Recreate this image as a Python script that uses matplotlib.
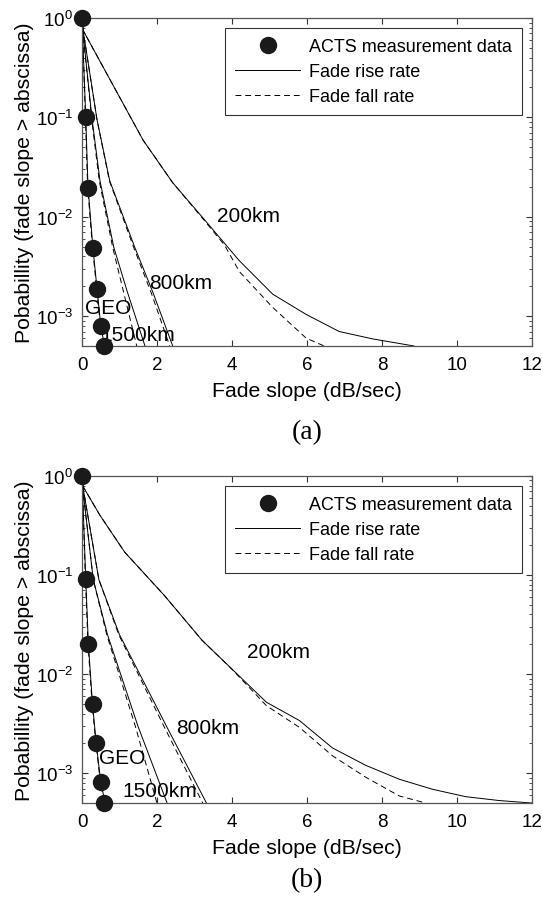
import numpy as np
import matplotlib
matplotlib.use('Agg')
import matplotlib.pyplot as plt

plt.rcParams['font.family'] = ['Liberation Sans', 'DejaVu Sans']
plt.rcParams['mathtext.default'] = 'regular'

#---- panel (a) ----
a_acts_x = [0, 0.1, 0.16, 0.29, 0.4, 0.5, 0.58]
a_acts_y = [1.0, 0.1, 0.0195, 0.0049, 0.00188, 7.9e-4, 5e-4]

a_geo_rise_x = [0, 0.1, 0.16, 0.29, 0.4, 0.5, 0.6]
a_geo_rise_y = [1.0, 0.1, 0.02, 0.0049, 0.0019, 8e-4, 5e-4]
a_geo_fall_x = [0, 0.09, 0.15, 0.28, 0.39, 0.49, 0.57]
a_geo_fall_y = [1.0, 0.1, 0.02, 0.0049, 0.0019, 8e-4, 5e-4]

a_1500_rise_x = [0, 0.02, 0.27, 0.48, 0.85, 1.2, 1.68]
a_1500_rise_y = [1.0, 0.75, 0.095, 0.023, 0.0049, 0.0018, 5e-4]
a_1500_fall_x = [0, 0.02, 0.26, 0.46, 0.82, 1.1, 1.46]
a_1500_fall_y = [1.0, 0.75, 0.095, 0.023, 0.0049, 0.0018, 5e-4]

a_800_rise_x = [0, 0.03, 0.40, 0.74, 1.41, 1.9, 2.42]
a_800_rise_y = [1.0, 0.75, 0.095, 0.023, 0.0049, 0.0017, 5e-4]
a_800_fall_x = [0, 0.03, 0.40, 0.73, 1.38, 1.85, 2.34]
a_800_fall_y = [1.0, 0.75, 0.095, 0.023, 0.0049, 0.0017, 5e-4]

a_200_rise_x = [0, 0.03, 1.63, 2.42, 3.2, 4.2, 5.09, 5.98, 6.86, 7.75, 8.86]
a_200_rise_y = [1.0, 0.75, 0.059, 0.022, 0.01, 0.0036, 0.00166, 0.00104, 7e-4, 5.9e-4, 5e-4]
a_200_fall_x = [0, 0.03, 1.63, 2.42, 3.2, 3.8, 4.2, 5.09, 5.98, 6.46]
a_200_fall_y = [1.0, 0.75, 0.059, 0.022, 0.0098, 0.0052, 0.0028, 0.00122, 6e-4, 5e-4]

#---- panel (b) ----
b_acts_x = [0, 0.1, 0.17, 0.28, 0.38, 0.5, 0.6]
b_acts_y = [1.0, 0.091, 0.02, 0.005, 0.002, 8.1e-4, 5e-4]

b_geo_rise_x = [0, 0.1, 0.17, 0.28, 0.38, 0.5, 0.62]
b_geo_rise_y = [1.0, 0.091, 0.02, 0.005, 0.002, 8.1e-4, 5e-4]
b_geo_fall_x = [0, 0.09, 0.16, 0.27, 0.37, 0.49, 0.6]
b_geo_fall_y = [1.0, 0.091, 0.02, 0.005, 0.002, 8.1e-4, 5e-4]

b_1500_rise_x = [0, 0.02, 0.3, 0.68, 1.49, 2.27]
b_1500_rise_y = [1.0, 0.75, 0.09, 0.025, 0.003, 5e-4]
b_1500_fall_x = [0, 0.02, 0.3, 0.66, 1.42, 2.0]
b_1500_fall_y = [1.0, 0.75, 0.09, 0.025, 0.003, 5e-4]

b_800_rise_x = [0, 0.03, 0.45, 1.0, 2.29, 3.32]
b_800_rise_y = [1.0, 0.75, 0.09, 0.025, 0.0028, 5e-4]
b_800_fall_x = [0, 0.03, 0.45, 0.98, 2.22, 3.22]
b_800_fall_y = [1.0, 0.75, 0.09, 0.025, 0.0028, 5e-4]

b_200_rise_x = [0, 0.03, 0.48, 1.14, 2.2, 3.2, 4.92, 5.8, 6.68, 7.57, 8.46, 9.34, 10.23, 11.12, 12.0]
b_200_rise_y = [1.0, 0.78, 0.4, 0.17, 0.062, 0.022, 0.0052, 0.0034, 0.0018, 0.0012, 8.7e-4, 6.9e-4, 5.8e-4, 5.3e-4, 5e-4]
b_200_fall_x = [0, 0.03, 0.48, 1.14, 2.2, 3.2, 4.0, 4.92, 5.8, 6.68, 7.57, 8.46, 9.17]
b_200_fall_y = [1.0, 0.78, 0.4, 0.17, 0.062, 0.022, 0.0112, 0.0048, 0.0029, 0.0015, 9.1e-4, 5.9e-4, 5e-4]

#text labels (text, x, y) per panel
a_labels = [('200km', 4.45, 0.0103), ('800km', 2.63, 0.0022), ('GEO', 0.69, 0.00123), ('1500km', 1.49, 6.6e-4)]
b_labels = [('200km', 5.24, 0.017), ('800km', 3.35, 0.0029), ('GEO', 1.06, 0.00145), ('1500km', 2.07, 6.7e-4)]


def drawPanel(ax, acts, rises, falls, labels, caption, capY):
	lw = 0.7
	for x, y in rises:
		ax.plot(x, y, color='black', linewidth=lw)
	for x, y in falls:
		ax.plot(x, y, color='black', linewidth=lw, linestyle=(0, (6, 4)))
	ax.plot(acts[0], acts[1], 'o', color='#1a1a1a', markersize=11.5, clip_on=False, zorder=5)

	#dummy handles for the legend
	h1, = ax.plot([], [], 'o', color='#1a1a1a', markersize=11.5)
	h2, = ax.plot([], [], color='black', linewidth=lw)
	h3, = ax.plot([], [], color='black', linewidth=lw, linestyle=(0, (6, 4)))
	leg = ax.legend([h1, h2, h3], ['ACTS measurement data', 'Fade rise rate', 'Fade fall rate'],
					loc='upper right', fontsize=13, frameon=True, fancybox=False,
					handlelength=3.6, handletextpad=0.5, borderpad=0.55, labelspacing=0.45,
					borderaxespad=0.55)
	leg.get_frame().set_edgecolor('black')
	leg.get_frame().set_linewidth(0.8)

	for txt, x, y in labels:
		ax.text(x, y, txt, fontsize=15, ha='center', va='center')

	ax.set_yscale('log')
	ax.set_xlim(0, 12)
	ax.set_ylim(5e-4, 1)
	ax.set_xticks(range(0, 13, 2))
	ax.set_yticks([1e-3, 1e-2, 1e-1, 1])
	ax.tick_params(which='both', direction='in', top=True, right=True, labelsize=13.5, colors='#333333', labelcolor='black')
	ax.tick_params(which='major', length=4)
	ax.tick_params(which='minor', length=2)
	ax.tick_params(axis='x', pad=7)
	ax.tick_params(axis='y', pad=6.5)
	for s in ax.spines.values():
		s.set_color('#555555')
		s.set_linewidth(0.9)
	ax.set_xlabel('Fade slope (dB/sec)', fontsize=15.3, labelpad=6)
	ax.set_ylabel('Pobabillity (fade slope > abscissa)', fontsize=15.3, labelpad=1)
	ax.text(0.5, capY, caption, transform=ax.transAxes, ha='center', va='center',
			fontsize=20, family=['Liberation Serif', 'DejaVu Serif'])


fig = plt.figure(figsize=(5.42, 9.03), dpi=100)
axA = fig.add_axes([0.1513, 0.6157, 0.830, 0.3632])
axB = fig.add_axes([0.1513, 0.1096, 0.830, 0.3622])

drawPanel(axA, (a_acts_x, a_acts_y),
		  [(a_geo_rise_x, a_geo_rise_y), (a_1500_rise_x, a_1500_rise_y), (a_800_rise_x, a_800_rise_y), (a_200_rise_x, a_200_rise_y)],
		  [(a_geo_fall_x, a_geo_fall_y), (a_1500_fall_x, a_1500_fall_y), (a_800_fall_x, a_800_fall_y), (a_200_fall_x, a_200_fall_y)],
		  a_labels, '(a)', -0.26)
drawPanel(axB, (b_acts_x, b_acts_y),
		  [(b_geo_rise_x, b_geo_rise_y), (b_1500_rise_x, b_1500_rise_y), (b_800_rise_x, b_800_rise_y), (b_200_rise_x, b_200_rise_y)],
		  [(b_geo_fall_x, b_geo_fall_y), (b_1500_fall_x, b_1500_fall_y), (b_800_fall_x, b_800_fall_y), (b_200_fall_x, b_200_fall_y)],
		  b_labels, '(b)', -0.235)

fig.savefig('out.png', dpi=100)
